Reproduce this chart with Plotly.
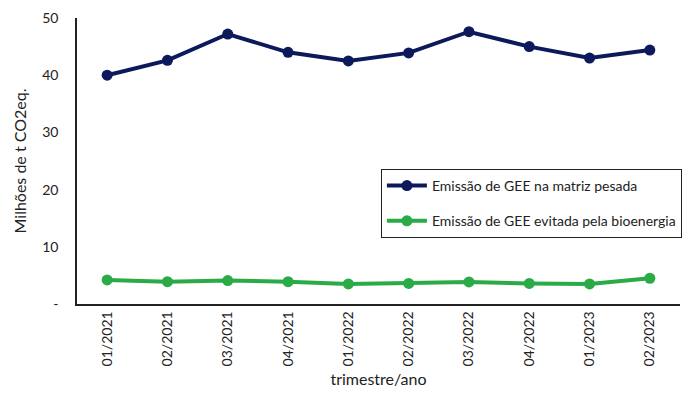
import plotly.graph_objects as go

categories = ["01/2021", "02/2021", "03/2021", "04/2021", "01/2022",
              "02/2022", "03/2022", "04/2022", "01/2023", "02/2023"]
emissao_pesada = [40.0, 42.6, 47.2, 44.0, 42.5, 43.9, 47.6, 45.0, 43.0, 44.4]
emissao_evitada = [4.2, 3.9, 4.1, 3.9, 3.5, 3.6, 3.85, 3.6, 3.5, 4.5]
ytick_vals = [0, 10, 20, 30, 40, 50]
ytick_text = ["-", "10", "20", "30", "40", "50"]

FONT = "Lato, Open Sans, sans-serif"
BLUE = "#0c1a5c"
GREEN = "#2aab47"

fig = go.Figure()
fig.add_trace(go.Scatter(
    x=categories, y=emissao_pesada, mode="lines+markers",
    name="Emissão de GEE na matriz pesada", legendgroup="a",
    line=dict(color=BLUE, width=4), marker=dict(color=BLUE, size=11)))
fig.add_trace(go.Scatter(
    x=categories, y=emissao_evitada, mode="lines+markers",
    name="Emissão de GEE evitada pela bioenergia", legendgroup="b",
    line=dict(color=GREEN, width=4), marker=dict(color=GREEN, size=11)))

# page body has an 8px margin, so the figure is sized/offset accordingly
fig.update_layout(
    width=692, height=388,
    margin=dict(l=69, r=20, t=10, b=92),
    paper_bgcolor="white", plot_bgcolor="white",
    font=dict(family=FONT, size=14, color="#222"),
    legend=dict(x=0.504, y=0.472, xanchor="left", yanchor="top",
                bordercolor="#222", borderwidth=1, bgcolor="white",
                font=dict(size=14), traceorder="grouped",
                tracegroupgap=14, itemwidth=40),
    xaxis=dict(type="category", range=[-0.5, 9.5], showline=True,
               linecolor="#222", linewidth=1.5, tickangle=-90,
               ticks="", showgrid=False, zeroline=False, automargin=False,
               title=dict(text="trimestre/ano", standoff=8,
                          font=dict(size=16))),
    yaxis=dict(range=[0, 50], tickvals=ytick_vals, ticktext=ytick_text,
               showline=True, linecolor="#222", linewidth=1.5, ticks="",
               showgrid=False, zeroline=False, ticklabelstandoff=14,
               automargin=False,
               title=dict(text="Milhões de t CO2eq.", standoff=12,
                          font=dict(size=16))),
)

fig.write_html("out.html")
